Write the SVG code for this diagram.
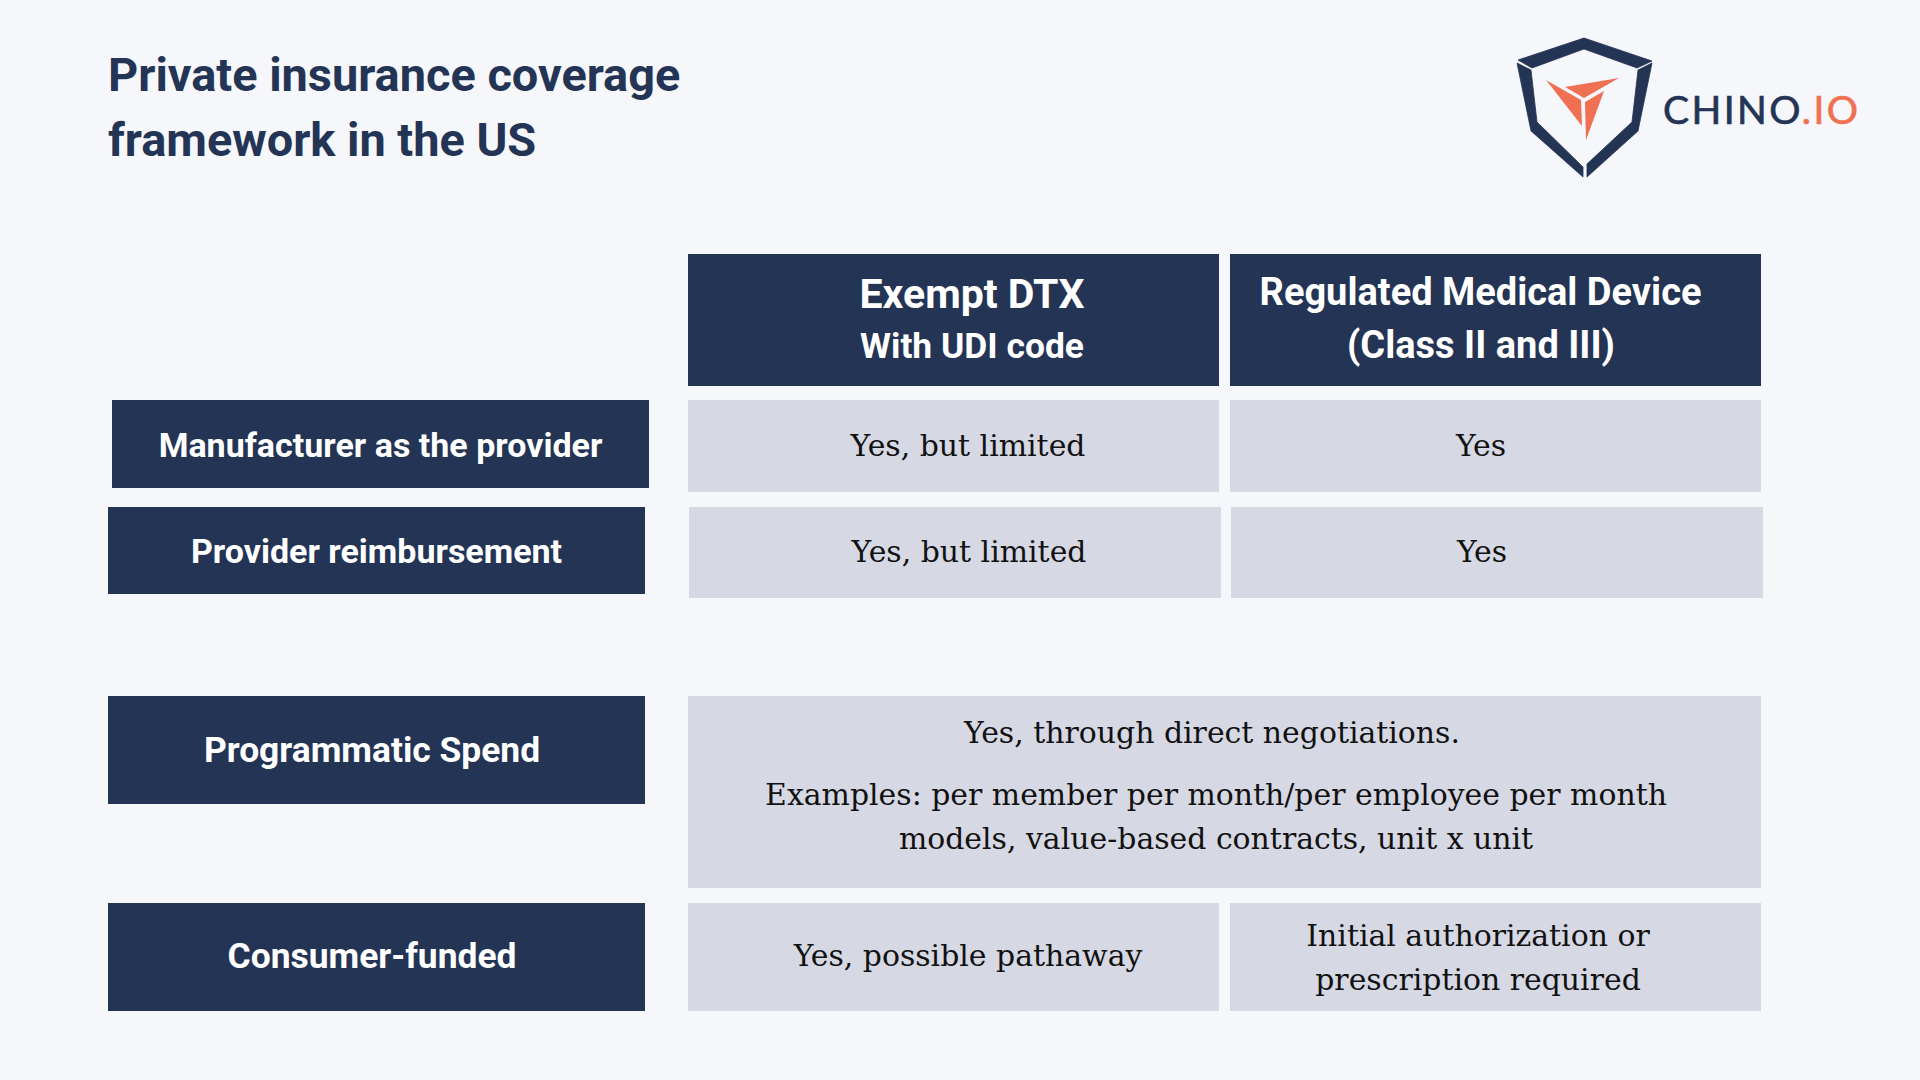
<svg xmlns="http://www.w3.org/2000/svg" width="1920" height="1080" viewBox="0 0 1920 1080">
<style>
.d{fill:#243455}.g{fill:#d6d8e4}.n{fill:#243455;stroke:#243455;stroke-width:.8}.o{fill:#f07052}
.t{font-family:Roboto,sans-serif;font-weight:700;fill:#243455;font-size:46.9px}
.w{font-family:Roboto,sans-serif;font-weight:700;fill:#fff;font-size:34px;text-anchor:middle}
.l{font-size:35.4px}
.b{font-family:"DejaVu Serif",serif;fill:#111;font-size:29.9px;text-anchor:middle}
</style>
<rect width="1920" height="1080" fill="#f5f7fb"/>
<text class="t" x="108" y="91">Private insurance coverage</text>
<text class="t" x="108" y="156">framework in the US</text>
<g id="logo">
<path class="n" d="M1518 60L1584 38L1652 61L1637 68L1584 49L1532 68Z"/>
<path class="n" d="M1517 63L1531 70L1537 122L1583 167V177L1531 131Z"/>
<path class="n" d="M1652 63L1638 70L1632 122L1587 164V177L1638 131Z"/>
<path class="o" d="M1565 87L1619 78L1584 98Z"/>
<path class="o" d="M1546 80L1581 100L1582 126Z"/>
<path class="o" d="M1604 91L1586 140L1585 102Z"/>
<text x="1663" y="124" font-family="Lato,sans-serif" font-size="39" letter-spacing="2.4" fill="#243455" stroke="#243455" stroke-width=".7">CHINO<tspan fill="#f07052" stroke="#f07052">.IO</tspan></text>
</g>
<g id="h1"><rect class="d" x="688" y="254" width="531" height="132"/><text class="w" x="972" y="308" style="font-size:41px">Exempt DTX</text><text class="w" x="972" y="358" style="font-size:35.4px">With UDI code</text></g>
<g id="h2"><rect class="d" x="1230" y="254" width="531" height="132"/><text class="w" x="1480.500" y="305" style="font-size:38px">Regulated Medical Device</text><text class="w" x="1481" y="358" style="font-size:38px">(Class II and III)</text></g>
<g id="r1"><rect class="d" x="112" y="400" width="537" height="88"/><text class="w" x="380.500" y="457">Manufacturer as the provider</text></g>
<g id="c11"><rect class="g" x="688" y="400" width="531" height="92"/><text class="b" x="968" y="456">Yes, but limited</text></g>
<g id="c12"><rect class="g" x="1230" y="400" width="531" height="92"/><text class="b" x="1481" y="456">Yes</text></g>
<g id="r2"><rect class="d" x="108" y="507" width="537" height="87"/><text class="w" x="376.500" y="563">Provider reimbursement</text></g>
<g id="c21"><rect class="g" x="689" y="507" width="532" height="91"/><text class="b" x="969" y="562">Yes, but limited</text></g>
<g id="c22"><rect class="g" x="1231" y="507" width="532" height="91"/><text class="b" x="1482" y="562">Yes</text></g>
<g id="r3"><rect class="d" x="108" y="696" width="537" height="108"/><text class="w l" x="372" y="762">Programmatic Spend</text></g>
<g id="c3"><rect class="g" x="688" y="696" width="1073" height="192"/><text class="b" x="1212" y="743">Yes, through direct negotiations.</text><text class="b" x="1216" y="805">Examples: per member per month/per employee per month</text><text class="b" x="1216" y="849">models, value-based contracts, unit x unit</text></g>
<g id="r4"><rect class="d" x="108" y="903" width="537" height="108"/><text class="w l" x="372" y="968">Consumer-funded</text></g>
<g id="c41"><rect class="g" x="688" y="903" width="531" height="108"/><text class="b" x="968" y="966">Yes, possible pathaway</text></g>
<g id="c42"><rect class="g" x="1230" y="903" width="531" height="108"/><text class="b" x="1478" y="946">Initial authorization or</text><text class="b" x="1478" y="990">prescription required</text></g>
<g id="connectors"/>
</svg>
